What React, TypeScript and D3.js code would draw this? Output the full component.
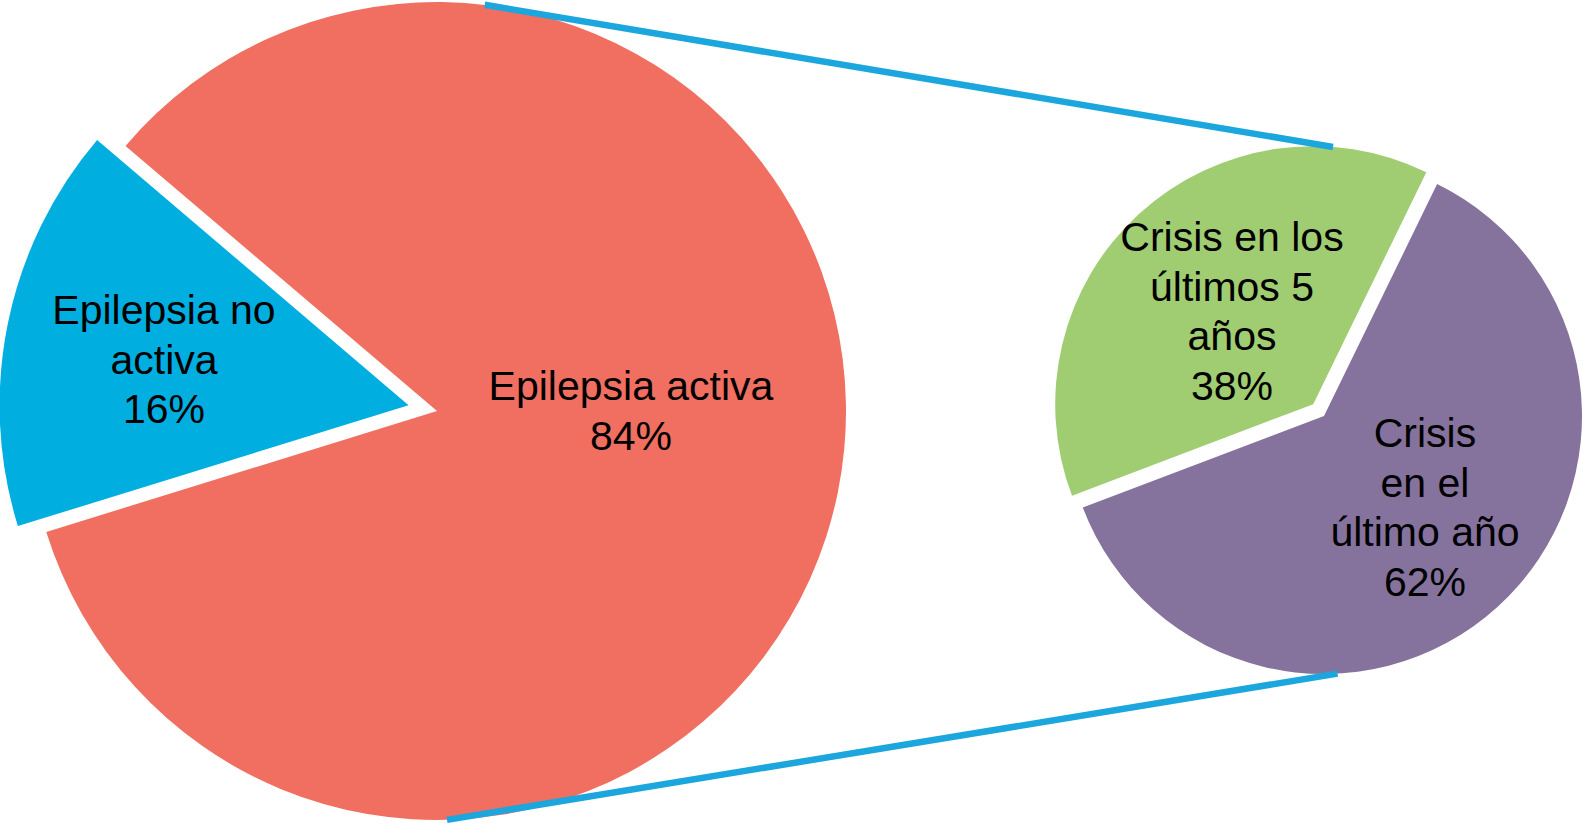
import React from 'react';
import * as d3 from 'd3';

// main pie
const mainCategories = ['Epilepsia activa', 'Epilepsia no activa'];
const mainValues = [84, 16];
const mainColors = ['#F06F60', '#00AEE0'];

// secondary pie (split of "Epilepsia activa")
const subCategories = ['Crisis en el último año', 'Crisis en los últimos 5 años'];
const subValues = [62, 38];
const subColors = ['#85739E', '#A0CC72'];

// label lines, shown as the chart shows them
const mainLabels = [['Epilepsia activa', '84%'], ['Epilepsia no', 'activa', '16%']];
const subLabels = [['Crisis', 'en el', 'último año', '62%'], ['Crisis en los', 'últimos 5', 'años', '38%']];

const W = 1583;
const H = 824;
const deg = Math.PI / 180;

const big = { cx: 437, cy: 411, r: 409, start: -49.6 * deg, explode: [0, 29] };
const small = { cx: 1324, cy: 416, r: 258, start: 26 * deg, explode: [0, 16] };

// label anchors (centre x, first baseline) in page coordinates
const mainLabelPos = [[631, 400], [164, 324]];
const subLabelPos = [[1425, 447], [1232, 251]];
const lineH = 49.5;

const pieLayout = (start: number) =>
    d3.pie<number>().sort(null).value(d => d).startAngle(start).endAngle(start + 2 * Math.PI);

const offset = (a: d3.PieArcDatum<number>, dist: number) => {
    const mid = (a.startAngle + a.endAngle) / 2;
    return [Math.sin(mid) * dist, -Math.cos(mid) * dist];
};

const onCircle = (p: { cx: number; cy: number; r: number }, angle: number, dx = 0, dy = 0) => [
    p.cx + dx + Math.sin(angle * deg) * p.r,
    p.cy + dy - Math.cos(angle * deg) * p.r,
];

export default function App() {
    const bigArcs = pieLayout(big.start)(mainValues);
    const smallArcs = pieLayout(small.start)(subValues);
    const arcBig = d3.arc<d3.PieArcDatum<number>>().innerRadius(0).outerRadius(big.r);
    const arcSmall = d3.arc<d3.PieArcDatum<number>>().innerRadius(0).outerRadius(small.r);

    const greenOff = offset(smallArcs[1], small.explode[1]);
    const t1 = onCircle(big, 6.7);
    const t2 = onCircle(small, 4.4, greenOff[0], greenOff[1]);
    const b1 = onCircle(big, 178.6);
    const b2 = onCircle(small, 177);

    const font = "'Liberation Sans', Arial, Helvetica, sans-serif";

    return (
        <svg width={W} height={H} style={{ position: 'absolute', left: 0, top: 0, background: '#fff' }}>
            <g>
                {bigArcs.map((a, i) => {
                    const [dx, dy] = offset(a, big.explode[i]);
                    return (
                        <path key={mainCategories[i]} d={arcBig(a) || ''} fill={mainColors[i]}
                            transform={`translate(${big.cx + dx},${big.cy + dy})`} />
                    );
                })}
            </g>
            <g>
                {smallArcs.map((a, i) => {
                    const [dx, dy] = offset(a, small.explode[i]);
                    return (
                        <path key={subCategories[i]} d={arcSmall(a) || ''} fill={subColors[i]}
                            transform={`translate(${small.cx + dx},${small.cy + dy})`} />
                    );
                })}
            </g>
            <g stroke="#1BA6DD" strokeWidth={6.5} strokeLinecap="butt">
                <line x1={t1[0]} y1={t1[1]} x2={t2[0]} y2={t2[1]} />
                <line x1={b1[0]} y1={b1[1]} x2={b2[0]} y2={b2[1]} />
            </g>
            <g fontFamily={font} fontSize={41} fill="#000" textAnchor="middle">
                {mainLabels.map((lines, i) =>
                    lines.map((t, j) => (
                        <text key={`m${i}${j}`} x={mainLabelPos[i][0]} y={mainLabelPos[i][1] + j * lineH}>{t}</text>
                    )))}
                {subLabels.map((lines, i) =>
                    lines.map((t, j) => (
                        <text key={`s${i}${j}`} x={subLabelPos[i][0]} y={subLabelPos[i][1] + j * lineH}>{t}</text>
                    )))}
            </g>
        </svg>
    );
}
